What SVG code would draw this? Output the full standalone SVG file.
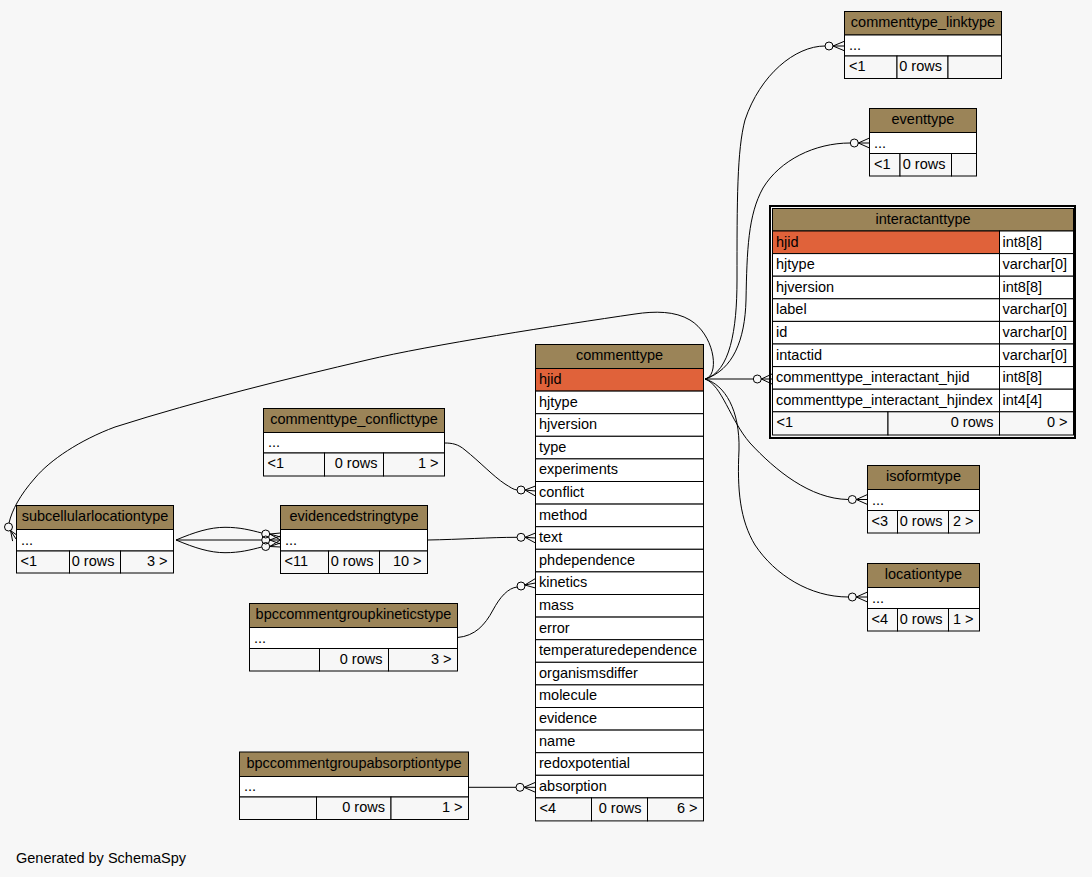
<svg xmlns="http://www.w3.org/2000/svg" width="1092" height="877" viewBox="0 0 1092 877">
<style>
text{font-family:"Liberation Sans",Arial,Helvetica,sans-serif;font-size:14.5px;fill:#000}
.c{text-anchor:middle}.r{text-anchor:end}
.hd{fill:#9b8458;stroke:#000;stroke-width:1}
.rw{fill:#fff;stroke:#000;stroke-width:1}
.pk{fill:#e0623a;stroke:#000;stroke-width:1}
.ft{fill:#f7f7f7;stroke:#000;stroke-width:1}
.cn{fill:none;stroke:#000;stroke-width:1}
.od{fill:none;stroke:#000;stroke-width:1}
</style>
<rect x="0" y="0" width="1092" height="877" fill="#f7f7f7"/>

<g id="connectors">
<path class="cn" d="M705,379 C730,372 737,330 737,280 C737,200 737,150 745,120 C760,75 795,46 825,46"/>
<circle class="od" cx="829" cy="46" r="4"/>
<path class="cn" d="M833,46 L845,41 M833,46 L845,46 M833,46 L845,51"/>

<path class="cn" d="M705,379 C733,370 745,340 746,300 C747,250 748,215 763,188 C780,160 815,143 850,143"/>
<circle class="od" cx="854.3" cy="143" r="4"/>
<path class="cn" d="M858.3,143 L869.5,138 M858.3,143 L869.5,143 M858.3,143 L869.5,148"/>

<path class="cn" d="M705,379 L753.3,379"/>
<circle class="od" cx="757.3" cy="379" r="4"/>
<path class="cn" d="M761.3,379 L772,374 M761.3,379 L772,379 M761.3,379 L772,384" stroke-width="1.5"/>

<path class="cn" d="M705,379 C722,385 730,420 750,443 C775,470 810,499 848.3,499.5"/>
<circle class="od" cx="852.3" cy="499.5" r="4"/>
<path class="cn" d="M856.3,499.5 L867.5,494.5 M856.3,499.5 L867.5,499.5 M856.3,499.5 L867.5,504.5"/>

<path class="cn" d="M705,379 C725,385 740,410 739,450 C737,490 740,520 755,545 C775,575 810,597 848.3,597"/>
<circle class="od" cx="852.3" cy="597" r="4"/>
<path class="cn" d="M856.3,597 L867.5,592 M856.3,597 L867.5,597 M856.3,597 L867.5,602"/>

<path class="cn" d="M705,379 C720,376 715,335 690,320 C675,311 655,311 635,314 C560,325 430,345 367,360 C290,378 200,400 115,427 C80,440 50,460 35,478 C20,495 12,510 9,523"/>
<circle class="od" cx="8.5" cy="527" r="4"/>
<path class="cn" d="M10.6,530.6 L12.6,541.1 M10.6,530.6 L16,539 M10.6,530.6 L19.4,536.9"/>

<path class="cn" d="M176,540 C195,532 210,527.3 225,527.3 C240,527.3 250,530 261.8,533"/>
<path class="cn" d="M176,540 L261.7,540"/>
<path class="cn" d="M176,540 C195,548 210,552.7 225,552.7 C240,552.7 250,550 261.8,547"/>
<circle class="od" cx="265.7" cy="534" r="4"/>
<circle class="od" cx="265.7" cy="540" r="4"/>
<circle class="od" cx="265.7" cy="546.5" r="4"/>
<path class="cn" d="M269.7,534 L280.5,533 M269.7,534 L280.5,537 M269.7,534 L280.5,540"/>
<path class="cn" d="M269.7,540 L280.5,536 M269.7,540 L280.5,540 M269.7,540 L280.5,544"/>
<path class="cn" d="M269.7,546.5 L280.5,540 M269.7,546.5 L280.5,543 M269.7,546.5 L280.5,547"/>

<path class="cn" d="M444.5,443 C452,443 458,444 465,450 C480,462 493,476 505,484 C510,487 513,489.5 517,490"/>
<circle class="od" cx="521" cy="490" r="4"/>
<path class="cn" d="M525,490 L535.5,486 M525,490 L535.5,491 M525,490 L535.5,496"/>

<path class="cn" d="M427.5,540 C460,539.5 490,537.3 517,537.3"/>
<circle class="od" cx="521" cy="537.3" r="4"/>
<path class="cn" d="M525,537.3 L535.5,533 M525,537.3 L535.5,538 M525,537.3 L535.5,543"/>

<path class="cn" d="M457.5,637.5 C475,636 485,625 493,610 C500,597 508,588 517.2,587"/>
<circle class="od" cx="521" cy="586" r="4"/>
<path class="cn" d="M524.8,585 L535.5,578.5 M524.8,585 L535.5,583 M524.8,585 L535.5,588"/>

<path class="cn" d="M468.5,787.3 L516,787.3"/>
<circle class="od" cx="520" cy="787.3" r="4"/>
<path class="cn" d="M524,787.3 L535.5,782.3 M524,787.3 L535.5,787.3 M524,787.3 L535.5,792.3"/>
</g>

<g id="commenttype_linktype">
<rect class="hd" x="844.5" y="11.5" width="157" height="23.5"/>
<text class="c" x="923" y="27">commenttype_linktype</text>
<rect class="rw" x="844.5" y="35" width="157" height="21"/>
<text x="849" y="50">...</text>
<rect class="ft" x="844.5" y="56" width="52.5" height="22.5"/>
<rect class="ft" x="897" y="56" width="51" height="22.5"/>
<rect class="ft" x="948" y="56" width="53.5" height="22.5"/>
<text x="849" y="71">&lt;1</text>
<text class="r" x="942" y="71">0 rows</text>
</g>

<g id="eventtype">
<rect class="hd" x="869.5" y="108.5" width="107" height="24"/>
<text class="c" x="923" y="124">eventtype</text>
<rect class="rw" x="869.5" y="132.5" width="107" height="21"/>
<text x="874" y="147.5">...</text>
<rect class="ft" x="869.5" y="153.5" width="30.5" height="22.5"/>
<rect class="ft" x="900" y="153.5" width="51.5" height="22.5"/>
<rect class="ft" x="951.5" y="153.5" width="25" height="22.5"/>
<text x="874" y="168.5">&lt;1</text>
<text class="r" x="945.5" y="168.5">0 rows</text>
</g>

<g id="interactanttype">
<rect x="770" y="206" width="305" height="232" fill="none" stroke="#000" stroke-width="2"/>
<rect class="hd" x="772.5" y="208.5" width="301" height="22.5"/>
<text class="c" x="923" y="223.5">interactanttype</text>
<rect class="pk" x="772.5" y="231" width="227" height="22.6"/>
<rect class="rw" x="999.5" y="231" width="74" height="22.6"/>
<text x="776" y="246.5">hjid</text><text x="1002.5" y="246.5">int8[8]</text>
<rect class="rw" x="772.5" y="253.6" width="227" height="22.6"/>
<rect class="rw" x="999.5" y="253.6" width="74" height="22.6"/>
<text x="776" y="269.1">hjtype</text><text x="1002.5" y="269.1">varchar[0]</text>
<rect class="rw" x="772.5" y="276.2" width="227" height="22.6"/>
<rect class="rw" x="999.5" y="276.2" width="74" height="22.6"/>
<text x="776" y="291.7">hjversion</text><text x="1002.5" y="291.7">int8[8]</text>
<rect class="rw" x="772.5" y="298.8" width="227" height="22.6"/>
<rect class="rw" x="999.5" y="298.8" width="74" height="22.6"/>
<text x="776" y="314.3">label</text><text x="1002.5" y="314.3">varchar[0]</text>
<rect class="rw" x="772.5" y="321.4" width="227" height="22.6"/>
<rect class="rw" x="999.5" y="321.4" width="74" height="22.6"/>
<text x="776" y="336.9">id</text><text x="1002.5" y="336.9">varchar[0]</text>
<rect class="rw" x="772.5" y="344" width="227" height="22.6"/>
<rect class="rw" x="999.5" y="344" width="74" height="22.6"/>
<text x="776" y="359.5">intactid</text><text x="1002.5" y="359.5">varchar[0]</text>
<rect class="rw" x="772.5" y="366.6" width="227" height="22.6"/>
<rect class="rw" x="999.5" y="366.6" width="74" height="22.6"/>
<text x="776" y="382.1">commenttype_interactant_hjid</text><text x="1002.5" y="382.1">int8[8]</text>
<rect class="rw" x="772.5" y="389.2" width="227" height="22.6"/>
<rect class="rw" x="999.5" y="389.2" width="74" height="22.6"/>
<text x="776" y="404.7">commenttype_interactant_hjindex</text><text x="1002.5" y="404.7">int4[4]</text>
<rect class="ft" x="772.5" y="411.8" width="115.5" height="23.2"/>
<rect class="ft" x="888" y="411.8" width="111.5" height="23.2"/>
<rect class="ft" x="999.5" y="411.8" width="74" height="23.2"/>
<text x="776.5" y="427">&lt;1</text>
<text class="r" x="993.5" y="427">0 rows</text>
<text class="r" x="1067.5" y="427">0 &gt;</text>
</g>

<g id="commenttype">
<rect class="hd" x="535.5" y="344.5" width="168" height="24"/>
<text class="c" x="619.5" y="359.5">commenttype</text>
<rect class="pk" x="535.5" y="368.5" width="168" height="22.6"/>
<text x="539" y="384">hjid</text>
<rect class="rw" x="535.5" y="391.1" width="168" height="22.6"/>
<text x="539" y="406.6">hjtype</text>
<rect class="rw" x="535.5" y="413.7" width="168" height="22.6"/>
<text x="539" y="429.2">hjversion</text>
<rect class="rw" x="535.5" y="436.3" width="168" height="22.6"/>
<text x="539" y="451.8">type</text>
<rect class="rw" x="535.5" y="458.9" width="168" height="22.6"/>
<text x="539" y="474.4">experiments</text>
<rect class="rw" x="535.5" y="481.5" width="168" height="22.6"/>
<text x="539" y="497">conflict</text>
<rect class="rw" x="535.5" y="504.1" width="168" height="22.6"/>
<text x="539" y="519.6">method</text>
<rect class="rw" x="535.5" y="526.7" width="168" height="22.6"/>
<text x="539" y="542.2">text</text>
<rect class="rw" x="535.5" y="549.3" width="168" height="22.6"/>
<text x="539" y="564.8">phdependence</text>
<rect class="rw" x="535.5" y="571.9" width="168" height="22.6"/>
<text x="539" y="587.4">kinetics</text>
<rect class="rw" x="535.5" y="594.5" width="168" height="22.6"/>
<text x="539" y="610">mass</text>
<rect class="rw" x="535.5" y="617.1" width="168" height="22.6"/>
<text x="539" y="632.6">error</text>
<rect class="rw" x="535.5" y="639.7" width="168" height="22.6"/>
<text x="539" y="655.2">temperaturedependence</text>
<rect class="rw" x="535.5" y="662.3" width="168" height="22.6"/>
<text x="539" y="677.8">organismsdiffer</text>
<rect class="rw" x="535.5" y="684.9" width="168" height="22.6"/>
<text x="539" y="700.4">molecule</text>
<rect class="rw" x="535.5" y="707.5" width="168" height="22.6"/>
<text x="539" y="723">evidence</text>
<rect class="rw" x="535.5" y="730.1" width="168" height="22.6"/>
<text x="539" y="745.6">name</text>
<rect class="rw" x="535.5" y="752.7" width="168" height="22.6"/>
<text x="539" y="768.2">redoxpotential</text>
<rect class="rw" x="535.5" y="775.3" width="168" height="22.6"/>
<text x="539" y="790.8">absorption</text>
<rect class="ft" x="535.5" y="797.9" width="56" height="23"/>
<rect class="ft" x="591.5" y="797.9" width="56" height="23"/>
<rect class="ft" x="647.5" y="797.9" width="56" height="23"/>
<text x="539.5" y="813">&lt;4</text>
<text class="r" x="641.5" y="813">0 rows</text>
<text class="r" x="697.5" y="813">6 &gt;</text>
</g>

<g id="commenttype_conflicttype">
<rect class="hd" x="263.5" y="408.5" width="181" height="24"/>
<text class="c" x="354" y="424">commenttype_conflicttype</text>
<rect class="rw" x="263.5" y="432.5" width="181" height="20.5"/>
<text x="268" y="447">...</text>
<rect class="ft" x="263.5" y="453" width="61" height="23"/>
<rect class="ft" x="324.5" y="453" width="59" height="23"/>
<rect class="ft" x="383.5" y="453" width="61" height="23"/>
<text x="267.5" y="468">&lt;1</text>
<text class="r" x="377.5" y="468">0 rows</text>
<text class="r" x="438.5" y="468">1 &gt;</text>
</g>

<g id="evidencedstringtype">
<rect class="hd" x="280.5" y="505.5" width="147" height="24"/>
<text class="c" x="354" y="521">evidencedstringtype</text>
<rect class="rw" x="280.5" y="529.5" width="147" height="21.5"/>
<text x="285" y="545">...</text>
<rect class="ft" x="280.5" y="551" width="48" height="22.5"/>
<rect class="ft" x="328.5" y="551" width="51" height="22.5"/>
<rect class="ft" x="379.5" y="551" width="48" height="22.5"/>
<text x="284.5" y="566">&lt;11</text>
<text class="r" x="373.5" y="566">0 rows</text>
<text class="r" x="421.5" y="566">10 &gt;</text>
</g>

<g id="bpccommentgroupkineticstype">
<rect class="hd" x="249.5" y="603.5" width="208" height="24"/>
<text class="c" x="353.5" y="619">bpccommentgroupkineticstype</text>
<rect class="rw" x="249.5" y="627.5" width="208" height="21"/>
<text x="254" y="642.5">...</text>
<rect class="ft" x="249.5" y="648.5" width="70" height="22.5"/>
<rect class="ft" x="319.5" y="648.5" width="69" height="22.5"/>
<rect class="ft" x="388.5" y="648.5" width="69" height="22.5"/>
<text class="r" x="382.5" y="663.5">0 rows</text>
<text class="r" x="451.5" y="663.5">3 &gt;</text>
</g>

<g id="bpccommentgroupabsorptiontype">
<rect class="hd" x="239.5" y="752" width="229" height="24.5"/>
<text class="c" x="354" y="767.5">bpccommentgroupabsorptiontype</text>
<rect class="rw" x="239.5" y="776.5" width="229" height="20.5"/>
<text x="244" y="791">...</text>
<rect class="ft" x="239.5" y="797" width="77" height="22.5"/>
<rect class="ft" x="316.5" y="797" width="74.5" height="22.5"/>
<rect class="ft" x="391" y="797" width="77.5" height="22.5"/>
<text class="r" x="385" y="812">0 rows</text>
<text class="r" x="462.5" y="812">1 &gt;</text>
</g>

<g id="subcellularlocationtype">
<rect class="hd" x="16.5" y="505.5" width="157" height="24"/>
<text class="c" x="95" y="521">subcellularlocationtype</text>
<rect class="rw" x="16.5" y="529.5" width="157" height="21.5"/>
<text x="21" y="545">...</text>
<rect class="ft" x="16.5" y="551" width="53" height="22"/>
<rect class="ft" x="69.5" y="551" width="51" height="22"/>
<rect class="ft" x="120.5" y="551" width="53" height="22"/>
<text x="20.5" y="566">&lt;1</text>
<text class="r" x="114.5" y="566">0 rows</text>
<text class="r" x="167.5" y="566">3 &gt;</text>
</g>

<g id="isoformtype">
<rect class="hd" x="867.5" y="465.5" width="112" height="24"/>
<text class="c" x="923.5" y="481">isoformtype</text>
<rect class="rw" x="867.5" y="489.5" width="112" height="21"/>
<text x="872" y="504.5">...</text>
<rect class="ft" x="867.5" y="510.5" width="30" height="22.5"/>
<rect class="ft" x="897.5" y="510.5" width="51" height="22.5"/>
<rect class="ft" x="948.5" y="510.5" width="31" height="22.5"/>
<text x="871.5" y="525.5">&lt;3</text>
<text class="r" x="942.5" y="525.5">0 rows</text>
<text class="r" x="973.5" y="525.5">2 &gt;</text>
</g>

<g id="locationtype">
<rect class="hd" x="867.5" y="563.5" width="112" height="24"/>
<text class="c" x="923.5" y="579">locationtype</text>
<rect class="rw" x="867.5" y="587.5" width="112" height="21"/>
<text x="872" y="602.5">...</text>
<rect class="ft" x="867.5" y="608.5" width="30" height="22.5"/>
<rect class="ft" x="897.5" y="608.5" width="51" height="22.5"/>
<rect class="ft" x="948.5" y="608.5" width="31" height="22.5"/>
<text x="871.5" y="623.5">&lt;4</text>
<text class="r" x="942.5" y="623.5">0 rows</text>
<text class="r" x="973.5" y="623.5">1 &gt;</text>
</g>

<text x="16" y="863">Generated by SchemaSpy</text>
</svg>
